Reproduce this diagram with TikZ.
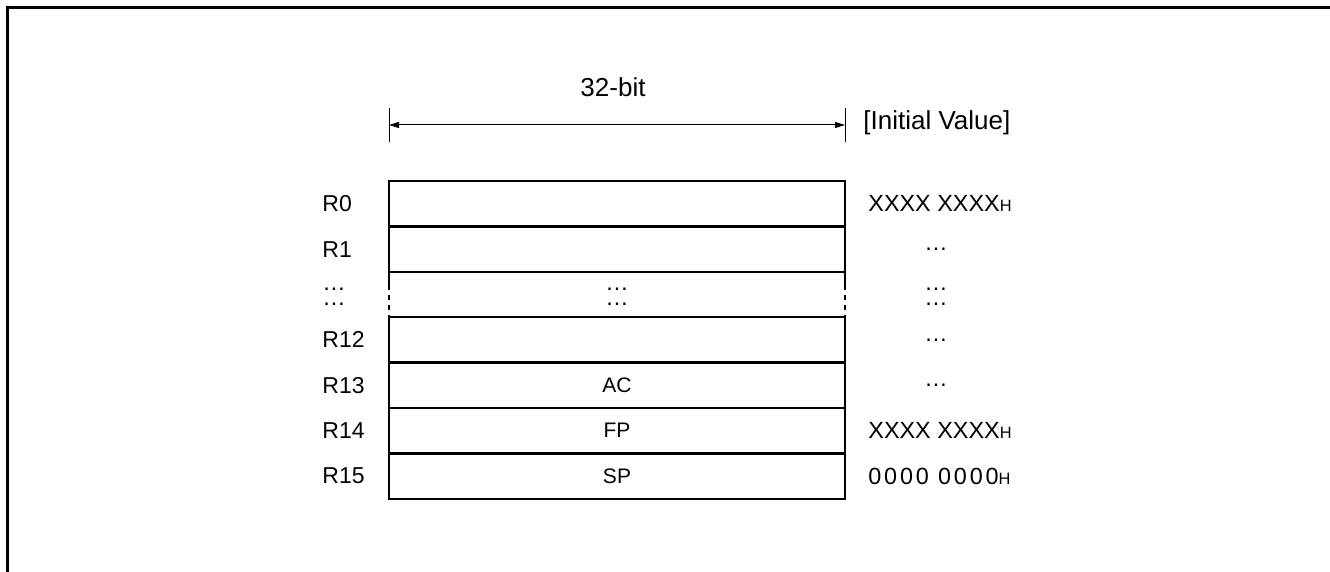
\documentclass[tikz,border=0pt]{standalone}
\usepackage{fontspec}
\setmainfont{Liberation Sans}
\usetikzlibrary{arrows.meta,positioning}
\tikzset{
  regbox/.style={draw,line width=1.2pt,minimum width=228pt,minimum height=22.7pt,inner sep=0pt,outer sep=0pt,font=\fontsize{10.5}{12}\selectfont},
  gaprow/.style={minimum width=228pt,minimum height=22.7pt,inner sep=0pt,outer sep=0pt},
  headtext/.style={inner sep=0pt,font=\fontsize{13}{15}\selectfont},
  reglabel/.style={anchor=west,inner sep=0pt,font=\fontsize{11.5}{14}\selectfont},
  regval/.style={anchor=west,inner sep=0pt,font=\fontsize{11.7}{14}\selectfont},
  dotsnode/.style={inner sep=0pt,font=\fontsize{11.7}{7.5}\selectfont},
  dimline/.style={line width=0.5pt,{Triangle[length=5pt,width=3pt]}-{Triangle[length=5pt,width=3pt]}},
  sideline/.style={line width=1.2pt},
  gapline/.style={line width=0.7pt,dash pattern=on 2.5pt off 2.5pt},
}
\newcommand*\hexval[1]{#1{\fontsize{8.2}{10}\selectfont H}}

\begin{document}
\begin{tikzpicture}[x=0.5pt,y=-0.5pt]
\clip (0,0) rectangle (1330,572);

% outer frame
\draw[line width=1.5pt] (7.5,600) -- (7.5,7.5) -- (1360,7.5);

% register rows
\node[regbox] (r0) at (617,203.7) {};
\node[regbox, below=0pt of r0] (r1) {};
\node[gaprow, below=0pt of r1] (rdots) {};
\node[regbox, below=0pt of rdots] (r12) {};
\node[regbox, below=0pt of r12] (r13) {AC};
\node[regbox, below=0pt of r13] (r14) {FP};
\node[regbox, below=0pt of r14] (r15) {SP};

% broken sides of the gap row
\foreach \s in {west,east} {
  \draw[sideline] (r1.south \s) -- ([shift={(0,18)}]r1.south \s);
  \draw[gapline] ([shift={(0,23)}]r1.south \s) -- (r12.north \s);
}

% 32-bit width
\coordinate (dimL) at ([yshift=28pt]r0.north west);
\coordinate (dimR) at ([yshift=28pt]r0.north east);
\draw[line width=0.5pt] ([yshift=8.5pt]dimL) -- ([yshift=-8.5pt]dimL);
\draw[line width=0.5pt] ([yshift=8.5pt]dimR) -- ([yshift=-8.5pt]dimR);
\draw[dimline] (dimL) -- node[headtext, above=14pt, xshift=-2pt] (bits) {32-bit} (dimR);
\node[headtext, anchor=west] (initial) at ([xshift=9pt, yshift=1pt]dimR) {[Initial Value]};

% register names
\foreach \r/\t in {r0/R0, r1/R1, r12/R12, r13/R13, r14/R14, r15/R15}
  \node[reglabel] (\r-name) at ([xshift=-33.5pt]\r.west) {\t};

% initial values
\foreach \r/\v in {r0/XXXX XXXX, r14/XXXX XXXX}
  \node[regval] (\r-init) at ([xshift=11.5pt]\r.east) {\hexval{\v}};
\node[regval] (r15-init) at ([xshift=11.5pt]r15.east) {\hexval{{\addfontfeature{LetterSpace=12}0000 0000}}};
\foreach \r in {r1, r12, r13}
  \node[dotsnode] (\r-init) at ([xshift=45.5pt]\r.east) {…};

% dots of the gap row
\node[dotsnode, anchor=west, align=left] (gap-name) at ([xshift=-33.5pt, yshift=-1pt]rdots.west) {…\\…};
\node[dotsnode, align=center] (gap-mid) at ([yshift=-1pt]rdots.center) {…\\…};
\node[dotsnode, align=center] (gap-init) at ([xshift=45.5pt, yshift=-1pt]rdots.east) {…\\…};

\end{tikzpicture}
\end{document}
